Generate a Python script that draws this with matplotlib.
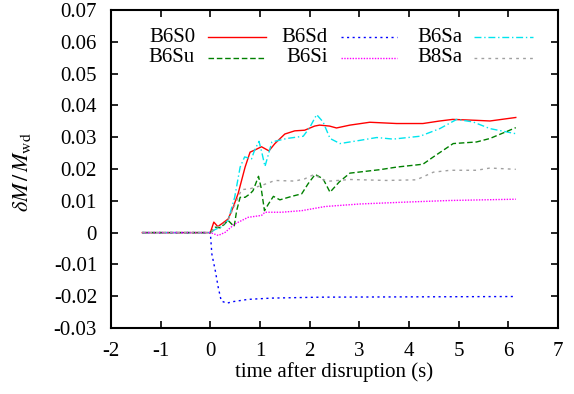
import matplotlib
matplotlib.use("Agg")
import matplotlib.pyplot as plt
from matplotlib.lines import Line2D

plt.rcParams['font.family'] = ['Liberation Serif', 'DejaVu Serif']
plt.rcParams['mathtext.fontset'] = 'stix'

# time after disruption (s) and mass change for each model
t_b6s0 = [-1.37, 0.0, 0.07, 0.15, 0.25, 0.36, 0.46, 0.56, 0.70, 0.80, 0.90, 1.03, 1.18, 1.30,
          1.50, 1.70, 1.90, 2.10, 2.20, 2.40, 2.54, 2.81, 3.21, 3.75, 4.28, 4.62, 4.88, 5.36, 5.63, 6.15]
v_b6s0 = [0, 0, 0.0033, 0.0019, 0.0030, 0.0043, 0.008, 0.0123, 0.0206, 0.0253, 0.026, 0.027, 0.0257, 0.028,
          0.031, 0.032, 0.0322, 0.0335, 0.0338, 0.0335, 0.0329, 0.0338, 0.0347, 0.0343, 0.0343, 0.0351,
          0.0356, 0.0353, 0.0351, 0.0362]

t_b6sd = [-1.37, 0.0, 0.03, 0.10, 0.16, 0.22, 0.33, 0.46, 0.76, 1.23, 2.24, 6.15]
v_b6sd = [0, 0, -0.0067, -0.012, -0.0173, -0.0215, -0.0222, -0.0217, -0.021, -0.0206, -0.0203, -0.0201]

t_b6sa = [-1.37, 0.0, 0.1, 0.25, 0.36, 0.49, 0.60, 0.69, 0.83, 0.89, 0.98, 1.04, 1.10, 1.24, 1.54,
          1.87, 2.0, 2.14, 2.27, 2.41, 2.61, 3.01, 3.35, 3.68, 4.22, 4.62, 4.96, 5.29, 5.63, 6.15]
v_b6sa = [0, 0, 0.001, 0.002, 0.004, 0.0111, 0.0206, 0.0238, 0.0232, 0.0259, 0.0287, 0.025, 0.0208,
          0.0285, 0.0296, 0.0303, 0.033, 0.0371, 0.0348, 0.0296, 0.028, 0.029, 0.0299, 0.0294, 0.0303,
          0.0327, 0.0356, 0.0348, 0.0327, 0.0311]

t_b6su = [-1.37, 0.0, 0.1, 0.2, 0.36, 0.48, 0.53, 0.60, 0.70, 0.80, 0.86, 0.97, 1.02, 1.09, 1.17,
          1.27, 1.40, 1.64, 1.84, 1.97, 2.11, 2.27, 2.41, 2.60, 2.81, 3.42, 3.75, 4.28, 4.49, 4.89,
          5.36, 5.63, 6.15]
v_b6su = [0, 0, 0.0017, 0.0015, 0.0038, 0.0019, 0.0069, 0.0111, 0.0111, 0.0122, 0.0132, 0.0177,
          0.0143, 0.0069, 0.009, 0.0114, 0.0103, 0.0114, 0.0122, 0.0154, 0.0183, 0.0169, 0.0127,
          0.016, 0.0187, 0.0198, 0.0206, 0.0215, 0.0238, 0.028, 0.0285, 0.0296, 0.033]

t_b6si = [-1.37, 0.0, 0.16, 0.30, 0.49, 0.76, 1.03, 1.10, 1.43, 1.84, 2.31, 3.01, 3.95, 4.83, 6.15]
v_b6si = [0, 0, -0.0009, 0.0001, 0.0027, 0.0048, 0.0054, 0.0064, 0.0064, 0.0069, 0.0082, 0.009,
          0.0096, 0.0101, 0.0105]

t_b8sa = [-1.37, 0.0, 0.1, 0.25, 0.36, 0.53, 0.63, 0.80, 1.03, 1.30, 1.70, 1.90, 2.09, 2.27, 2.41,
          2.81, 3.55, 4.15, 4.49, 4.83, 5.36, 5.63, 6.15]
v_b8sa = [0, 0, 0.0015, 0.0025, 0.004, 0.0101, 0.0135, 0.0138, 0.0148, 0.0164, 0.0162, 0.0169,
          0.0183, 0.0166, 0.0162, 0.0167, 0.0164, 0.0166, 0.019, 0.0196, 0.0196, 0.0203, 0.0199]

x_ticks = [-2, -1, 0, 1, 2, 3, 4, 5, 6, 7]
y_ticks = [-0.03, -0.02, -0.01, 0, 0.01, 0.02, 0.03, 0.04, 0.05, 0.06, 0.07]
y_ticklabels = ['-0.03', '-0.02', '-0.01', '0', '0.01', '0.02', '0.03', '0.04', '0.05', '0.06', '0.07']

series = [
    ('B6S0', t_b6s0, v_b6s0, dict(color='#ff0000', linestyle='-')),
    ('B6Sd', t_b6sd, v_b6sd, dict(color='#0000ff', linestyle=(0, (1.5, 2.5)))),
    ('B6Sa', t_b6sa, v_b6sa, dict(color='#00e5ee', linestyle=(0, (5, 2, 1, 2)))),
    ('B6Su', t_b6su, v_b6su, dict(color='#008000', linestyle=(0, (4, 2)))),
    ('B6Si', t_b6si, v_b6si, dict(color='#ff00ff', linestyle=(0, (1, 1)))),
    ('B8Sa', t_b8sa, v_b8sa, dict(color='#a0a0a0', linestyle=(0, (2, 3)))),
]

FS = 15

fig = plt.figure(figsize=(5.74, 3.94), dpi=100)
ax = fig.add_axes([111 / 574, 66 / 394, 447 / 574, 318 / 394])

for name, t, v, style in series:
    ax.plot(t, v, linewidth=1.0, **style)

ax.set_xlim(-2, 7)
ax.set_ylim(-0.03, 0.07)
ax.set_xticks(x_ticks)
ax.set_xticklabels([str(x) for x in x_ticks])
ax.set_yticks(y_ticks)
ax.set_yticklabels(y_ticklabels)
ax.tick_params(direction='in', length=5, width=1.2, top=True, right=True,
               labelsize=FS)
ax.tick_params(axis='y', pad=10)
ax.tick_params(axis='x', pad=10)
for sp in ax.spines.values():
    sp.set_linewidth(1.5)

ax.set_xlabel('time after disruption (s)', fontsize=FS, labelpad=1)
ax.set_ylabel(r'$\delta M\,/\,M_{\rm wd}$', fontsize=16)
ax.yaxis.set_label_coords(-0.175, 0.49)

# key: two rows of three entries, label to the left of its line sample
col_text_x = [195, 328, 462]
col_line_x = [(208, 266), (341, 397), (474, 533)]
row_y = [37, 58]
W, H = 574, 394
order = [(0, 0), (0, 1), (0, 2), (1, 0), (1, 1), (1, 2)]
for (row, col), (name, t, v, style) in zip(order, series):
    y = 1 - row_y[row] / H
    fig.text(col_text_x[col] / W, y, name, ha='right', va='center', fontsize=FS)
    x0, x1 = col_line_x[col]
    fig.add_artist(Line2D([x0 / W, x1 / W], [y, y], transform=fig.transFigure,
                          linewidth=1.0, **style))

fig.savefig('out.png', dpi=100)
